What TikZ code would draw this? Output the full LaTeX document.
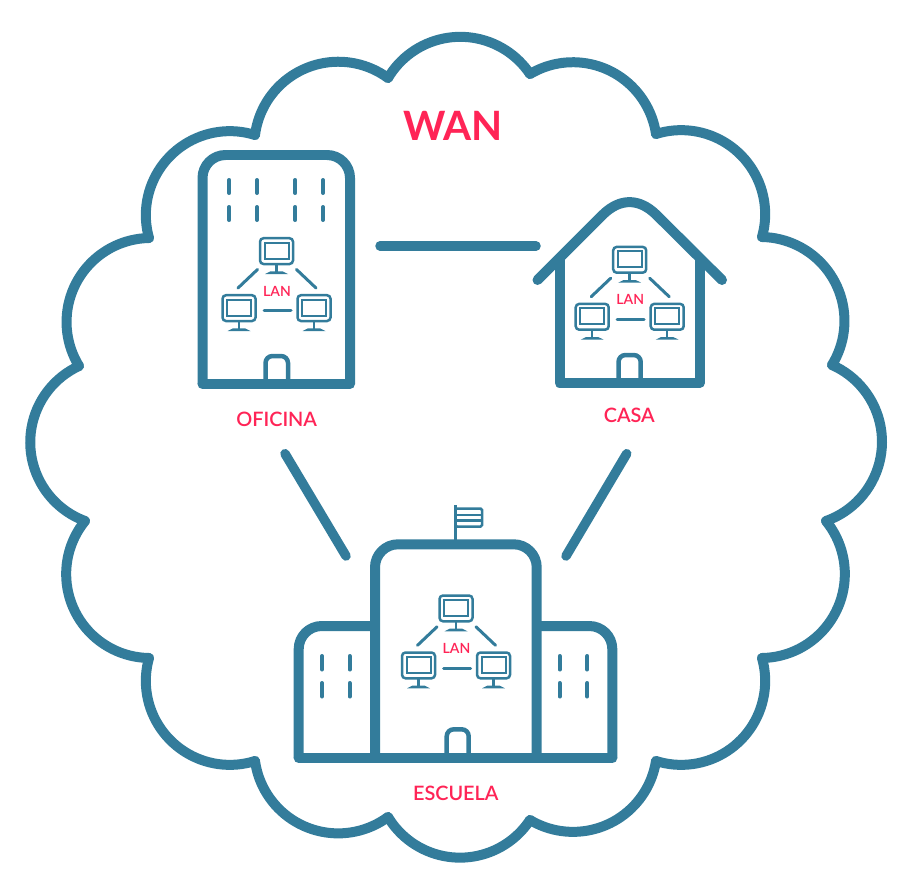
\documentclass[tikz,border=0pt]{standalone}
\usepackage{fontspec}
\setmainfont{Lato}
\newfontfamily\labelfont{Lato Semibold}
\newfontfamily\titlefont{Lato Bold}
\usepackage{xcolor}
\definecolor{wanblue}{HTML}{337C9B}
\definecolor{wanred}{HTML}{FF2456}

\tikzset{
  cloudline/.style={draw=wanblue, line width=2mm, line cap=round},
  wall/.style={draw=wanblue, line width=2mm, line join=round},
  groundline/.style={draw=wanblue, line width=2mm, line cap=round},
  link/.style={draw=wanblue, line width=1.9mm, line cap=round},
  windowline/.style={draw=wanblue, line width=0.8mm, line cap=round},
  doorline/.style={draw=wanblue, line width=0.9mm, rounded corners=1.4mm},
  lanlink/.style={draw=wanblue, line width=0.6mm, line cap=round},
  iconline/.style={draw=wanblue, line width=0.5mm},
  placetext/.style={text=wanred, font=\labelfont\fontsize{11.3}{13}\selectfont, inner sep=0pt},
  lantext/.style={text=wanred, font=\labelfont\fontsize{8}{10}\selectfont, inner sep=0pt},
  pics/computer/.style={code={
    \draw[iconline, rounded corners=0.7mm] (-16.5,1.2) rectangle (16.5,27);
    \draw[iconline, line width=0.4mm] (-12,5.5) rectangle (12,21.5);
    \draw[iconline] (0,27) -- (0,35);
    \fill[wanblue] (-11.5,37) -- (-6,34.3) -- (6,34.3) -- (11.5,37) -- cycle;
  }},
  pics/lannet/.style={code={
    \pic at (0,0) {computer};
    \pic at (-37.5,57) {computer};
    \pic at (37.5,57) {computer};
    \coordinate (-ta) at (-19,32.5);
    \coordinate (-la) at (-38.5,51);
    \coordinate (-tb) at (20,32.5);
    \coordinate (-rb) at (39.5,51);
    \coordinate (-lc) at (-12.5,73.7);
    \coordinate (-rc) at (14.5,73.7);
    \draw[lanlink] (-ta) -- (-la);
    \draw[lanlink] (-tb) -- (-rb);
    \draw[lanlink] (-lc) -- (-rc);
    \node[lantext] (-label) at (0.5,54) {LAN};
  }},
}

\begin{document}
\begin{tikzpicture}[x=0.02cm, y=-0.02cm]
\useasboundingbox (0,0) rectangle (911,895);

% Cloud, one arc between each pair of cusps
\foreach \ax/\ay/\bx/\by in {388/78/530/74, 530/74/656/134, 656/134/762/237, 762/237/832/365,
    832/365/826/521, 826/521/762/658, 762/658/656/761, 656/761/530/820, 530/820/388/817,
    388/817/255/761, 255/761/149/658, 149/658/85/521, 85/521/79/366, 79/366/149/238,
    149/238/255/135, 255/135/388/78}
{
  \pgfmathsetmacro{\dd}{veclen(\bx-\ax,\by-\ay)}
  \pgfmathsetmacro{\hh}{sqrt(84*84-(\dd/2)*(\dd/2))}
  \pgfmathsetmacro{\cx}{(\ax+\bx)/2-\hh*(\by-\ay)/\dd}
  \pgfmathsetmacro{\cy}{(\ay+\by)/2+\hh*(\bx-\ax)/\dd}
  \pgfmathsetmacro{\sa}{atan2(\ay-\cy,\ax-\cx)}
  \pgfmathsetmacro{\ea}{atan2(\by-\cy,\bx-\cx)}
  \pgfmathsetmacro{\eb}{\ea<\sa ? \ea+360 : \ea}
  \draw[cloudline] plot[domain=\sa:\eb, samples=40] ({\cx+84*cos(\x)},{\cy+84*sin(\x)});
}

\node[text=wanred, font=\titlefont\fontsize{23}{25}\selectfont, inner sep=0pt] (wan) at (453,126) {WAN};

% Oficina
\draw[wall, rounded corners=4.6mm] (202.5,384) -- (202.5,155) -- (350,155) -- (350,384);
\draw[groundline] (202.5,384) -- (350,384);
\foreach \wx in {229.3,257,295.3,323}
  \foreach \wy in {180,207}
    \draw[windowline] (\wx,\wy) -- ++(0,13);
\draw[doorline] (265.5,384) -- (265.5,356) -- (288,356) -- (288,384);
\pic (lanoficina) at (276.5,237) {lannet};
\node[placetext] (oficina) at (276.7,419.5) {OFICINA};

% Casa
\draw[wall] (559.5,258) -- (559.5,382.7) -- (700,382.7) -- (700,258);
\draw[wall, line cap=round] (537.5,280) -- (603,214.5) .. controls (620,198) and (639,198) .. (656,214.5) -- (722,280);
\draw[doorline] (618.5,382.7) -- (618.5,355) -- (640.7,355) -- (640.7,382.7);
\pic (lancasa) at (629.7,245.7) {lannet};
\node[placetext] (casa) at (629.3,415.7) {CASA};

% Escuela
\draw[wall, rounded corners=4.6mm] (375,758.3) -- (375,544.3) -- (536.7,544.3) -- (536.7,758.3);
\draw[wall, rounded corners=4.6mm] (375,626) -- (298.7,626) -- (298.7,758.3);
\draw[wall, rounded corners=4.6mm] (536.7,626) -- (612.3,626) -- (612.3,758.3);
\draw[groundline] (298.7,758.3) -- (612.3,758.3);
\foreach \wx in {322,349.7,559.7,587.3}
  \foreach \wy in {656,683}
    \draw[windowline] (\wx,\wy) -- ++(0,13.5);
\draw[doorline] (446.7,758.3) -- (446.7,729.3) -- (468.7,729.3) -- (468.7,758.3);
\draw[iconline] (455.3,505) -- (455.3,544);
\draw[iconline, rounded corners=0.3mm] (455.3,508.5) rectangle (482,526.5);
\draw[iconline] (455.3,514.8) -- (482,514.8);
\draw[iconline] (455.3,520.6) -- (482,520.6);
\pic (lanescuela) at (456,594.3) {lannet};
\node[placetext] (escuela) at (455.8,793.7) {ESCUELA};

% Links between the sites
\coordinate (oficinaE) at (380,246);
\coordinate (casaW) at (536,246);
\coordinate (oficinaS) at (285,453.7);
\coordinate (escuelaW) at (346,556);
\coordinate (casaS) at (626.7,453.7);
\coordinate (escuelaE) at (566,556);
\draw[link] (oficinaE) -- (casaW);
\draw[link] (oficinaS) -- (escuelaW);
\draw[link] (casaS) -- (escuelaE);

\end{tikzpicture}
\end{document}
